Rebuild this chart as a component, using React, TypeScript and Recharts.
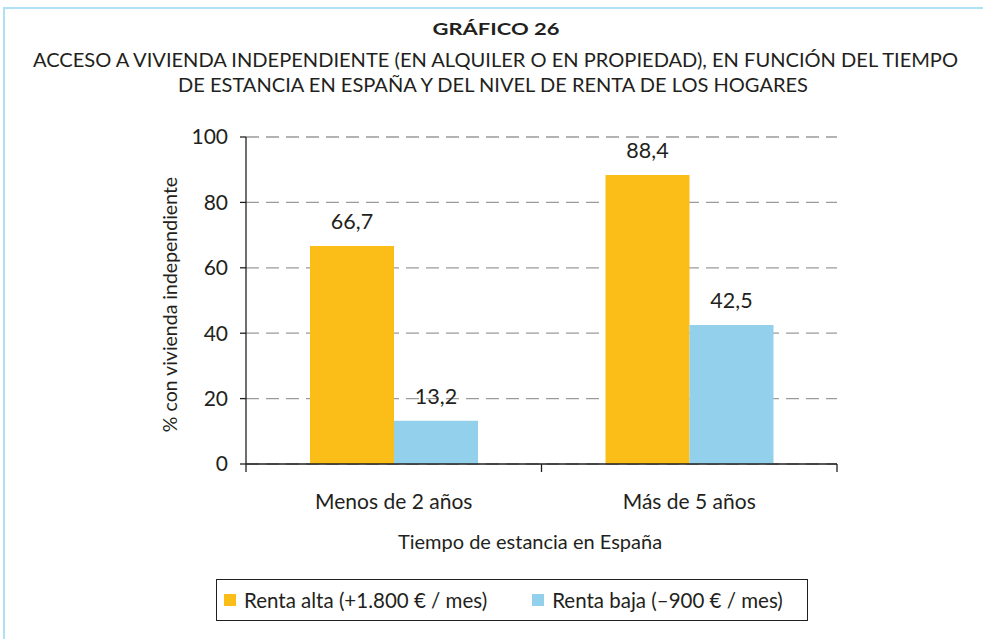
import React from 'react';
import { BarChart, Bar, XAxis, YAxis, CartesianGrid, LabelList, Legend } from 'recharts';

// categories and series
const categories = ['Menos de 2 años', 'Más de 5 años'];
const rentaAlta = [66.7, 88.4];
const rentaBaja = [13.2, 42.5];
const yTicks = [0, 20, 40, 60, 80, 100];

const seriesNames = ['Renta alta (+1.800 € / mes)', 'Renta baja (–900 € / mes)'];
const ORANGE = '#fbbe19';
const BLUE = '#93d0ec';
const INK = '#231f20';
const FONT = 'Lato, "Open Sans", sans-serif';

const X_TICK_SIZE = 6;
const X_TICK_MARGIN = 24;

const data = categories.map((name, i) => ({
  name,
  alta: rentaAlta[i],
  baja: rentaBaja[i],
}));

const fmt = (v: any) => Number(v).toFixed(1).replace('.', ',');

// category label plus tick marks on the category boundaries
const CategoryTick = (props: any) => {
  const { x, y, payload, index, width, visibleTicksCount } = props;
  const half = width / visibleTicksCount / 2;
  const axisY = y - X_TICK_SIZE - X_TICK_MARGIN;
  const isLast = index === visibleTicksCount - 1;
  return (
    <g>
      <line x1={x - half} x2={x - half} y1={axisY} y2={axisY + 8} stroke={INK} strokeWidth={1.3} />
      {isLast && <line x1={x + half} x2={x + half} y1={axisY} y2={axisY + 8} stroke={INK} strokeWidth={1.3} />}
      <text x={x} y={y} dy="0.71em" textAnchor="middle" fill={INK} fontSize={21} fontFamily={FONT}>
        {payload.value}
      </text>
    </g>
  );
};

const LegendBox = (props: any) => {
  const items = props.payload || [];
  return (
    <div
      style={{
        height: 42,
        width: 592,
        boxSizing: 'border-box',
        border: `1.4px solid ${INK}`,
        background: '#fff',
        display: 'flex',
        alignItems: 'center',
        fontFamily: FONT,
        fontSize: 20.5,
        color: INK,
      }}
    >
      {items.map((it: any, i: number) => (
        <div key={i} style={{ display: 'flex', alignItems: 'center', marginLeft: i === 0 ? 7 : 45 }}>
          <span style={{ width: 12, height: 12, background: it.color, display: 'inline-block', marginRight: 8 }} />
          <span>{it.value}</span>
        </div>
      ))}
    </div>
  );
};

export default function App() {
  return (
    <div
      style={{
        position: 'absolute',
        left: 0,
        top: 0,
        width: 983,
        height: 639,
        background: '#fff',
        overflow: 'hidden',
        fontFamily: FONT,
      }}
    >
      {/* light blue frame, only top and left edges visible */}
      <div
        style={{
          position: 'absolute',
          left: 3,
          top: 7,
          width: 1100,
          height: 800,
          borderTop: '2px solid #b0e0f5',
          borderLeft: '2px solid #b0e0f5',
        }}
      />
      <div style={{ position: 'absolute', left: 0, top: 0 }}>
        <BarChart
          width={983}
          height={639}
          data={data}
          margin={{ top: 137, right: 146, left: 186, bottom: 18 }}
          barGap={0}
        >
          <CartesianGrid vertical={false} stroke="#9a9a9a" strokeWidth={1.3} strokeDasharray="13 7" />
          <XAxis
            dataKey="name"
            height={115}
            tickLine={false}
            tickSize={X_TICK_SIZE}
            tickMargin={X_TICK_MARGIN}
            axisLine={{ stroke: INK, strokeWidth: 1.3 }}
            tick={<CategoryTick />}
          />
          <YAxis
            width={60}
            domain={[0, 100]}
            ticks={yTicks}
            tickSize={6}
            tickMargin={12}
            axisLine={{ stroke: INK, strokeWidth: 1.3 }}
            tickLine={{ stroke: INK, strokeWidth: 1.3 }}
            tick={{ fill: INK, fontSize: 21, fontFamily: FONT }}
          />
          <Legend
            verticalAlign="bottom"
            content={<LegendBox />}
            wrapperStyle={{ left: 216, width: 592, bottom: 18 }}
          />
          <Bar dataKey="alta" name={seriesNames[0]} fill={ORANGE} barSize={84} isAnimationActive={false}>
            <LabelList dataKey="alta" position="top" offset={17} formatter={fmt} fill={INK} fontSize={21.5} fontFamily={FONT} />
          </Bar>
          <Bar dataKey="baja" name={seriesNames[1]} fill={BLUE} barSize={84} isAnimationActive={false}>
            <LabelList dataKey="baja" position="top" offset={17} formatter={fmt} fill={INK} fontSize={21.5} fontFamily={FONT} />
          </Bar>
        </BarChart>
      </div>
      <svg
        width={983}
        height={639}
        style={{ position: 'absolute', left: 0, top: 0, pointerEvents: 'none' }}
        fontFamily={FONT}
        fill={INK}
      >
        <text x={496} y={35} textAnchor="middle" fontSize={17} fontWeight={700} textLength={127} lengthAdjust="spacingAndGlyphs">
          GRÁFICO 26
        </text>
        <text x={33} y={67} fontSize={20} textLength={925} lengthAdjust="spacingAndGlyphs">
          ACCESO A VIVIENDA INDEPENDIENTE (EN ALQUILER O EN PROPIEDAD), EN FUNCIÓN DEL TIEMPO
        </text>
        <text x={178} y={91.5} fontSize={20} textLength={630} lengthAdjust="spacingAndGlyphs">
          DE ESTANCIA EN ESPAÑA Y DEL NIVEL DE RENTA DE LOS HOGARES
        </text>
        <text x={177} y={304.5} fontSize={19.5} textAnchor="middle" transform="rotate(-90 177 304.5)">
          % con vivienda independiente
        </text>
        <text x={530} y={549} fontSize={20} textAnchor="middle">
          Tiempo de estancia en España
        </text>
      </svg>
    </div>
  );
}
